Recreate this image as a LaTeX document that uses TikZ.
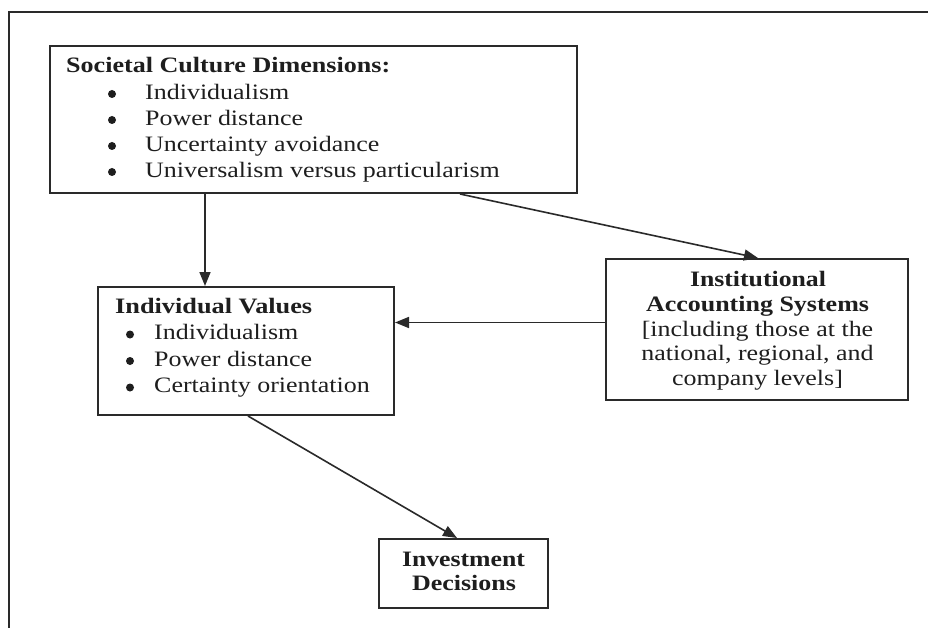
\documentclass[tikz,border=0pt]{standalone}
\usepackage{fontspec}
\setmainfont{Liberation Serif}[FakeStretch=1.18]
\usetikzlibrary{arrows.meta}
\definecolor{linec}{HTML}{2A2A2A}
\definecolor{textc}{HTML}{1E1E1E}
\newcommand{\bw}[2]{\resizebox{#1pt}{\height}{\bfseries #2}}
\begin{document}
\begin{tikzpicture}[x=1pt,y=-1pt,
  box/.style={draw=linec, line width=2pt, inner sep=0pt},
  txt/.style={anchor=base west, inner sep=0pt, text=textc, font=\fontsize{22}{26}\selectfont},
  ctxt/.style={anchor=base, inner sep=0pt, text=textc, font=\fontsize{22}{26}\selectfont},
  bul/.style={circle, fill=textc, inner sep=0pt, minimum size=8pt},
  arr/.style={draw=linec, line width=1.6pt, -{Triangle[length=14pt,width=11pt]}},
  frame/.style={draw=linec, line width=2pt}]
\useasboundingbox (0,0) rectangle (928,628);
\fill[white] (0,0) rectangle (928,628);
\draw[frame] (9,628) -- (9,12) -- (928,12);

% boxes
\node[box, minimum width=527pt, minimum height=147pt] (soc) at (313.5,119.5) {};
\node[box, minimum width=296pt, minimum height=128pt] (ind) at (246,351) {};
\node[box, minimum width=302pt, minimum height=141pt] (inst) at (757,329.5) {};
\node[box, minimum width=169pt, minimum height=69pt] (inv) at (463.5,573.5) {};

% Societal Culture Dimensions
\node[txt] (soct) at (66,73) {\bw{324}{Societal Culture Dimensions:}};
\node[bul] (socb1) at (112,94) {};
\node[txt] (soc1) at (145,99.5) {Individualism};
\node[bul] (socb2) at (112,120) {};
\node[txt] (soc2) at (145,125.5) {Power distance};
\node[bul] (socb3) at (112,146) {};
\node[txt] (soc3) at (145,151.5) {Uncertainty avoidance};
\node[bul] (socb4) at (112,172) {};
\node[txt] (soc4) at (145,177.5) {Universalism versus particularism};

% Individual Values
\node[txt] (indt) at (115,313.5) {\bw{197}{Individual Values}};
\node[bul] (indb1) at (130,334.5) {};
\node[txt] (ind1) at (154,339.5) {Individualism};
\node[bul] (indb2) at (130,361) {};
\node[txt] (ind2) at (154,366) {Power distance};
\node[bul] (indb3) at (130,387.5) {};
\node[txt] (ind3) at (154,392.5) {Certainty orientation};

% Institutional Accounting Systems
\node[ctxt] (inst1) at (758,286.5) {\bw{136}{Institutional}};
\node[ctxt] (inst2) at (757.5,311.5) {\bw{223}{Accounting Systems}};
\node[ctxt] (inst3) at (757.5,336.5) {[including those at the};
\node[ctxt] (inst4) at (757.5,360.5) {national, regional, and};
\node[ctxt] (inst5) at (757.5,385.5) {company levels]};

% Investment Decisions
\node[ctxt] (inv1) at (463.5,566.5) {\bw{123}{Investment}};
\node[ctxt] (inv2) at (464,590.5) {\bw{104}{Decisions}};

% connectors
\coordinate (c1) at (205,0);
\coordinate (c2) at (460,0);
\coordinate (c3) at (758,0);
\coordinate (c4) at (0,322.5);
\coordinate (c5) at (248,0);
\coordinate (c6) at (457,0);
\draw[arr] (soc.south -| c1) -- (ind.north -| c1);
\draw[arr] (soc.south -| c2) -- (inst.north -| c3);
\draw[arr] (inst.west |- c4) -- (ind.east |- c4);
\draw[arr] (ind.south -| c5) -- (inv.north -| c6);
\end{tikzpicture}
\end{document}
